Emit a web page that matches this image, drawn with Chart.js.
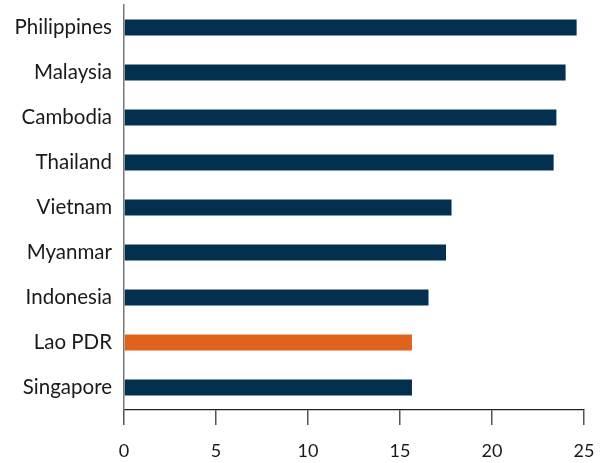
<!DOCTYPE html>
<html>
<head>
<meta charset="utf-8">
<script src="https://cdn.jsdelivr.net/npm/chart.js@4"></script>
<style>
  html, body { margin: 0; padding: 0; background: #fff; }
  #wrap { width: 603px; height: 463px; }
</style>
</head>
<body>
<div id="wrap"><canvas id="chart"></canvas></div>
<script>
const countries = ["Philippines", "Malaysia", "Cambodia", "Thailand", "Vietnam", "Myanmar", "Indonesia", "Lao PDR", "Singapore"];
const values = [24.6, 24.0, 23.5, 23.35, 17.8, 17.5, 16.55, 15.65, 15.65];
const highlight = "Lao PDR";
const xTicks = [0, 5, 10, 15, 20, 25];

const NAVY = "#03304f";
const ORANGE = "#e1621c";

Chart.defaults.font.family = "Lato, 'Noto Sans', sans-serif";
Chart.defaults.font.size = 17;
Chart.defaults.color = "#1a1a1a";

const config = {
  type: "bar",
  data: {
    labels: countries,
    datasets: [{
      data: values,
      backgroundColor: countries.map((c) => (c === highlight ? ORANGE : NAVY)),
      borderWidth: 0,
      categoryPercentage: 1,
      barPercentage: 0.36,
    }],
  },
  options: {
    indexAxis: "y",
    responsive: true,
    maintainAspectRatio: false,
    animation: false,
    layout: { padding: { top: 5, right: 19, left: 0, bottom: 0 } },
    plugins: {
      legend: { display: false },
      tooltip: { enabled: false },
    },
    scales: {
      x: {
        min: 0,
        max: 25,
        afterBuildTicks: (axis) => {
          axis.ticks = xTicks.map((v) => ({ value: v }));
        },
        afterFit: (axis) => {
          axis.height = 53;
          axis.paddingLeft = 0;
          axis.paddingRight = 0;
        },
        grid: {
          drawOnChartArea: false,
          drawTicks: true,
          tickLength: 15,
          color: "#555",
          lineWidth: 1.5,
        },
        border: { display: true, color: "#222", width: 1.2 },
        ticks: { padding: 15, color: "#1a1a1a", font: { size: 18 } },
      },
      y: {
        afterFit: (axis) => {
          axis.width = 124;
          axis.paddingTop = 0;
          axis.paddingBottom = 0;
        },
        grid: { display: false, drawTicks: false },
        border: { display: true, color: "#777", width: 1.5 },
        ticks: { padding: 12, color: "#1a1a1a", font: { size: 20.5 } },
      },
    },
  },
};

new Chart(document.getElementById("chart"), config);
</script>
</body>
</html>
